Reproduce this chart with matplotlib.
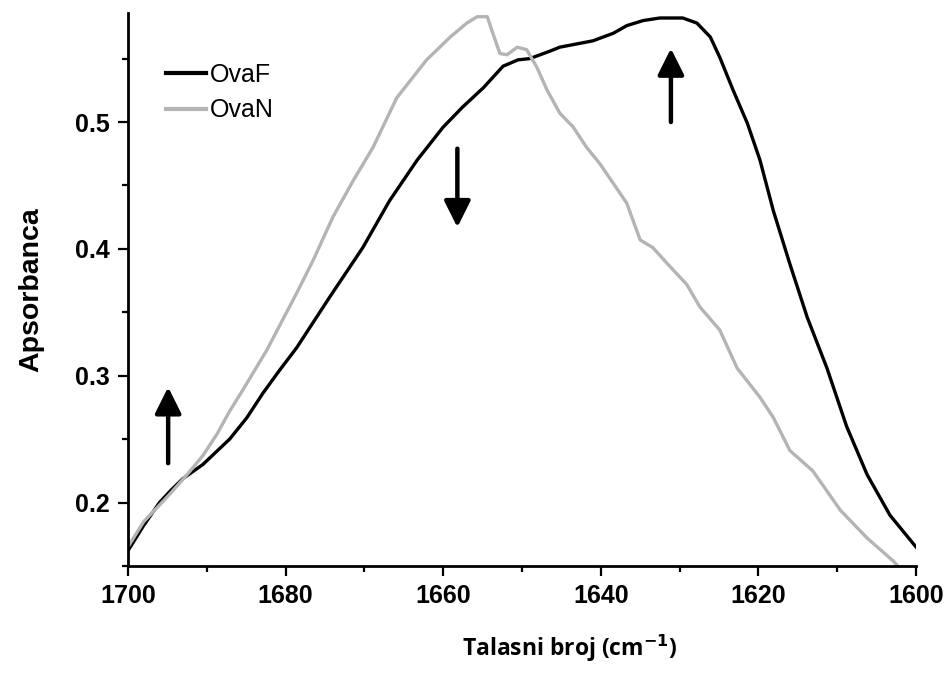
import matplotlib
matplotlib.use("Agg")
import matplotlib.pyplot as plt
from matplotlib.ticker import MultipleLocator

plt.rcParams["font.family"] = ["Liberation Sans", "DejaVu Sans"]

# wavenumber / absorbance
ovaf_x = [1700.0, 1698.0, 1696.0, 1694.5, 1693.0, 1690.5, 1687.1, 1684.9, 1682.9, 1680.8,
          1678.6, 1674.4, 1670.2, 1666.8, 1663.3, 1660.0, 1657.5, 1654.9, 1652.4, 1650.5,
          1649.0, 1646.4, 1645.2, 1641.0, 1638.4, 1636.7, 1634.6, 1632.5, 1629.6, 1627.8,
          1626.1, 1624.9, 1623.2, 1621.4, 1619.8, 1618.1, 1616.0, 1613.8, 1611.3, 1608.8,
          1606.2, 1603.3, 1600.0]
ovaf_y = [0.162, 0.182, 0.200, 0.210, 0.219, 0.230, 0.250, 0.267, 0.286, 0.304,
          0.322, 0.362, 0.401, 0.438, 0.470, 0.496, 0.512, 0.527, 0.544, 0.549,
          0.550, 0.556, 0.559, 0.564, 0.570, 0.576, 0.580, 0.582, 0.582, 0.578,
          0.567, 0.551, 0.525, 0.499, 0.470, 0.430, 0.388, 0.346, 0.306, 0.260,
          0.222, 0.190, 0.165]

ovan_x = [1700.0, 1698.0, 1696.0, 1694.5, 1692.5, 1690.5, 1688.7, 1687.1, 1685.4, 1682.4,
          1678.6, 1676.5, 1674.0, 1671.4, 1668.9, 1665.9, 1662.1, 1659.1, 1657.0, 1655.7,
          1654.4, 1653.7, 1652.8, 1651.9, 1650.6, 1649.4, 1648.1, 1646.8, 1645.2, 1643.5,
          1641.8, 1640.1, 1636.7, 1635.0, 1633.4, 1631.5, 1629.1, 1627.4, 1624.9, 1622.7,
          1619.8, 1618.1, 1616.0, 1613.1, 1609.6, 1606.2, 1602.9, 1602.3]
ovan_y = [0.165, 0.185, 0.198, 0.208, 0.222, 0.237, 0.254, 0.272, 0.289, 0.320,
          0.365, 0.391, 0.425, 0.454, 0.480, 0.519, 0.549, 0.567, 0.578, 0.583,
          0.583, 0.570, 0.554, 0.553, 0.559, 0.557, 0.543, 0.525, 0.507, 0.496,
          0.480, 0.467, 0.436, 0.407, 0.401, 0.388, 0.372, 0.354, 0.336, 0.306,
          0.283, 0.267, 0.241, 0.225, 0.194, 0.172, 0.154, 0.150]

# arrows: (x, tail y, tip y)
arrows = [(1694.9, 0.231, 0.291),
          (1658.2, 0.479, 0.417),
          (1631.1, 0.500, 0.558)]

fig = plt.figure(figsize=(9.5, 6.73), dpi=100)
ax = fig.add_axes([0.1347, 0.159, 0.8295, 0.8218])

ax.plot(ovaf_x, ovaf_y, color="black", lw=2.4, label="OvaF")
ax.plot(ovan_x, ovan_y, color="#b4b4b4", lw=2.4, label="OvaN")

for x, y0, y1 in arrows:
    ax.annotate("", xy=(x, y1), xytext=(x, y0),
                arrowprops=dict(arrowstyle="-|>,head_length=0.8,head_width=0.4",
                                mutation_scale=20, lw=3.2, color="black",
                                shrinkA=0, shrinkB=0))

ax.set_xlim(1700, 1600)
ax.set_ylim(0.15, 0.586)
ax.xaxis.set_major_locator(MultipleLocator(20))
ax.xaxis.set_minor_locator(MultipleLocator(10))
ax.yaxis.set_major_locator(MultipleLocator(0.1))
ax.yaxis.set_minor_locator(MultipleLocator(0.05))

ax.spines["top"].set_visible(False)
ax.spines["right"].set_visible(False)
for s in ("left", "bottom"):
    ax.spines[s].set_linewidth(2)

ax.tick_params(which="major", direction="out", length=7, width=1.6, pad=6, labelsize=18)
ax.tick_params(which="minor", direction="out", length=4, width=1.6)
for lab in ax.get_xticklabels() + ax.get_yticklabels():
    lab.set_fontweight("bold")

ax.set_ylabel("Apsorbanca", fontweight="bold", fontsize=20.5, labelpad=22)
fig.text(0.6, 0.037, "Talasni broj (cm$^{\\mathbf{-1}}$)", ha="center", va="center",
         fontfamily="Open Sans", fontweight="bold", fontsize=16.5)

leg = ax.legend(loc="upper left", bbox_to_anchor=(0.02, 0.95), frameon=False,
                prop={"size": 18}, handlelength=1.6, handletextpad=0.15,
                labelspacing=0.45)
for h in leg.get_lines():
    h.set_linewidth(3)

fig.savefig("out.png", dpi=100)
